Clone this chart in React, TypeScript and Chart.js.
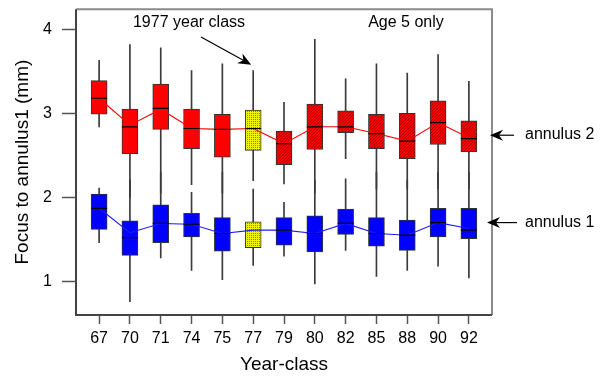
import React, { useEffect, useRef } from 'react';
import { Chart, registerables } from 'chart.js';
Chart.register(...registerables);

const categories = ['67', '70', '71', '74', '75', '77', '79', '80', '82', '85', '88', '90', '92'];
const yTicks = [1, 2, 3, 4];

// annulus 2 (red)
const a2WhiskerHigh = [3.63, 3.82, 3.78, 3.51, 3.59, 3.51, 3.13, 3.88, 3.41, 3.59, 3.48, 3.70, 3.38];
const a2Q3 = [3.39, 3.05, 3.35, 3.05, 2.99, 3.04, 2.79, 3.11, 3.03, 2.99, 3.00, 3.15, 2.91];
const a2Median = [3.18, 2.84, 3.06, 2.82, 2.81, 2.82, 2.64, 2.84, 2.84, 2.76, 2.67, 2.89, 2.70];
const a2Q1 = [2.99, 2.52, 2.81, 2.58, 2.48, 2.56, 2.39, 2.57, 2.77, 2.58, 2.46, 2.63, 2.54];
const a2WhiskerLow = [2.84, 2.0, 2.05, 2.15, 2.05, 2.2, 2.16, 2.05, 2.46, 2.1, 2.1, 2.1, 2.1];
const a2Line = [3.18, 2.86, 3.05, 2.82, 2.81, 2.82, 2.64, 2.84, 2.84, 2.76, 2.67, 2.89, 2.71];

// annulus 1 (blue)
const a1WhiskerHigh = [2.11, 2.21, 2.3, 2.06, 2.3, 2.1, 1.94, 2.2, 2.22, 2.3, 2.2, 2.3, 2.3];
const a1Q3 = [2.04, 1.72, 1.91, 1.81, 1.76, 1.71, 1.76, 1.78, 1.86, 1.76, 1.73, 1.87, 1.87];
const a1Median = [1.87, 1.52, 1.69, 1.68, 1.57, null, 1.61, 1.57, 1.69, 1.57, 1.55, 1.70, 1.61];
const a1Q1 = [1.62, 1.31, 1.46, 1.53, 1.36, 1.40, 1.43, 1.35, 1.56, 1.42, 1.37, 1.53, 1.51];
const a1WhiskerLow = [1.46, 0.76, 1.28, 1.13, 1.02, 1.19, 1.30, 0.97, 1.37, 1.06, 1.13, 1.18, 1.04];
const a1Line = [1.87, 1.58, 1.69, 1.68, 1.57, 1.61, 1.61, 1.57, 1.69, 1.57, 1.55, 1.70, 1.63];

const highlightIndex = 5; // 1977 year class
const hatchFrom = 6; // hatched red boxes from 1979 on

const FONT = '"Liberation Sans", Arial, Helvetica, sans-serif';

function makePattern(kind: string): CanvasPattern | string {
  const c = document.createElement('canvas');
  const g = c.getContext('2d');
  if (!g) return '#ff0000';
  if (kind === 'hatch') {
    c.width = 3; c.height = 3;
    g.fillStyle = '#ff0000';
    g.fillRect(0, 0, 3, 3);
    g.fillStyle = '#b00000';
    g.fillRect(0, 2, 1, 1);
    g.fillRect(1, 1, 1, 1);
    g.fillRect(2, 0, 1, 1);
  } else {
    c.width = 2; c.height = 2;
    g.fillStyle = '#f2f200';
    g.fillRect(0, 0, 2, 2);
    g.fillStyle = '#8a8a00';
    g.fillRect(1, 1, 1, 1);
  }
  return g.createPattern(c, 'repeat') || '#ff0000';
}

function drawArrow(ctx: CanvasRenderingContext2D, x0: number, y0: number, x1: number, y1: number) {
  const dx = x1 - x0, dy = y1 - y0;
  const len = Math.hypot(dx, dy);
  const ux = dx / len, uy = dy / len;
  const nx = -uy, ny = ux;
  const L = 13, W = 5.5, N = 9;
  ctx.beginPath();
  ctx.moveTo(x0, y0);
  ctx.lineTo(x1 - ux * N, y1 - uy * N);
  ctx.strokeStyle = '#000';
  ctx.lineWidth = 1.2;
  ctx.stroke();
  ctx.beginPath();
  ctx.moveTo(x1, y1);
  ctx.lineTo(x1 - ux * L + nx * W, y1 - uy * L + ny * W);
  ctx.lineTo(x1 - ux * N, y1 - uy * N);
  ctx.lineTo(x1 - ux * L - nx * W, y1 - uy * L - ny * W);
  ctx.closePath();
  ctx.fillStyle = '#000';
  ctx.fill();
}

const framePlugin = {
  id: 'frameAndNotes',
  afterDatasetsDraw(chart: any) {
    const { ctx, chartArea, scales } = chart;
    const xs = scales.x, ys = scales.y;
    ctx.save();
    // frame
    ctx.lineWidth = 2;
    ctx.strokeStyle = '#8a8a8a';
    ctx.beginPath();
    ctx.moveTo(chartArea.left, chartArea.top);
    ctx.lineTo(chartArea.right, chartArea.top);
    ctx.lineTo(chartArea.right, chartArea.bottom);
    ctx.stroke();
    ctx.strokeStyle = '#444';
    ctx.beginPath();
    ctx.moveTo(chartArea.left, chartArea.top);
    ctx.lineTo(chartArea.left, chartArea.bottom);
    ctx.lineTo(chartArea.right, chartArea.bottom);
    ctx.stroke();

    // annotations
    ctx.fillStyle = '#000';
    ctx.font = '16px ' + FONT;
    ctx.textBaseline = 'middle';
    ctx.textAlign = 'center';
    ctx.fillText('1977 year class', 189, 23);
    ctx.fillText('Age 5 only', 406, 23);
    ctx.textAlign = 'left';
    const yA2 = ys.getPixelForValue(2.74);
    const yA1 = ys.getPixelForValue(1.70);
    ctx.fillText('annulus 2', 525, yA2 - 1);
    ctx.fillText('annulus 1', 525, yA1);

    const tipX = xs.getPixelForValue(highlightIndex) - 2;
    const tipY = ys.getPixelForValue(3.58);
    drawArrow(ctx, 201, 37, tipX, tipY);
    drawArrow(ctx, 514, yA2, chartArea.right - 2, yA2);
    drawArrow(ctx, 517, yA1, chartArea.right - 5, yA1);
    ctx.restore();
  },
};

export default function App() {
  const ref = useRef<HTMLCanvasElement | null>(null);

  useEffect(() => {
    if (!ref.current) return;
    const hatch = makePattern('hatch');
    const checker = makePattern('checker');

    const redColors = categories.map((_, i) =>
      i === highlightIndex ? checker : i >= hatchFrom ? hatch : '#ff0000'
    );
    const blueColors = categories.map((_, i) => (i === highlightIndex ? checker : '#0000ff'));

    const pts = (lo: (number | null)[], hi?: (number | null)[]) =>
      categories.map((_, i) => ({ x: i, y: hi ? [lo[i], hi[i]] : lo[i] }));

    const whiskerDs = (lo: number[], hi: number[]) => ({
      type: 'bar',
      data: pts(lo, hi),
      backgroundColor: '#3a3a3a',
      borderWidth: 0,
      barThickness: 1,
      grouped: false,
      order: 5,
    });
    const boxDs = (q1: number[], q3: number[], colors: any[]) => ({
      type: 'bar',
      data: pts(q1, q3),
      backgroundColor: colors,
      borderColor: '#333',
      borderWidth: 1,
      borderSkipped: false,
      barThickness: 16,
      grouped: false,
      order: 4,
    });
    const lineDs = (vals: number[], color: string) => ({
      type: 'line',
      data: pts(vals),
      borderColor: color,
      borderWidth: 1.1,
      pointRadius: 0,
      fill: false,
      tension: 0,
      order: 3,
    });
    const medDs = (vals: (number | null)[]) => ({
      type: 'line',
      data: pts(vals),
      showLine: false,
      pointStyle: 'line',
      pointRadius: 8,
      pointBorderWidth: 1.2,
      pointBorderColor: '#000',
      borderColor: '#000',
      order: 1,
    });

    const chart = new Chart(ref.current, {
      type: 'bar',
      data: {
        datasets: [
          whiskerDs(a2WhiskerLow, a2WhiskerHigh),
          whiskerDs(a1WhiskerLow, a1WhiskerHigh),
          boxDs(a2Q1, a2Q3, redColors),
          boxDs(a1Q1, a1Q3, blueColors),
          lineDs(a2Line, '#ff0000'),
          lineDs(a1Line, '#1a1aff'),
          medDs(a2Median),
          medDs(a1Median),
        ] as any,
      },
      options: {
        animation: false,
        responsive: true,
        maintainAspectRatio: false,
        layout: { padding: { top: 7, right: 116, left: 0, bottom: 0 } },
        plugins: { legend: { display: false }, tooltip: { enabled: false } },
        scales: {
          x: {
            type: 'linear',
            min: -0.75,
            max: 12.75,
            offset: false,
            afterBuildTicks: (s: any) => {
              s.ticks = categories.map((_, i) => ({ value: i }));
            },
            afterFit: (s: any) => {
              s.height = 62;
              s.paddingLeft = 0;
              s.paddingRight = 0;
            },
            ticks: {
              callback: (v: any) => categories[v] ?? '',
              color: '#000',
              font: { size: 16, family: FONT },
              padding: 5,
              maxRotation: 0,
              autoSkip: false,
            },
            grid: { offset: false, drawOnChartArea: false, tickLength: 9, tickColor: '#555', tickWidth: 1.5 },
            border: { display: false },
            title: {
              display: true,
              text: 'Year-class',
              color: '#000',
              font: { size: 19, family: FONT },
              padding: { top: 0, bottom: 1 },
            },
          },
          y: {
            type: 'linear',
            min: 0.6,
            max: 4.24,
            afterBuildTicks: (s: any) => {
              s.ticks = yTicks.map((v) => ({ value: v }));
            },
            afterFit: (s: any) => {
              s.width = 76;
              s.paddingTop = 0;
              s.paddingBottom = 0;
            },
            ticks: {
              color: '#000',
              font: { size: 16, family: FONT },
              padding: 10,
            },
            grid: { drawOnChartArea: false, tickLength: 14, tickColor: '#555', tickWidth: 1.5 },
            border: { display: false },
            title: {
              display: true,
              text: 'Focus to annulus1 (mm)',
              color: '#000',
              font: { size: 19, family: FONT },
              padding: { top: 11, bottom: 0 },
            },
          },
        },
      } as any,
      plugins: [framePlugin],
    });
    return () => chart.destroy();
  }, []);

  return (
    <div style={{ position: 'absolute', left: 0, top: 0, width: 608, height: 377, background: '#fff' }}>
      <canvas ref={ref} />
    </div>
  );
}
